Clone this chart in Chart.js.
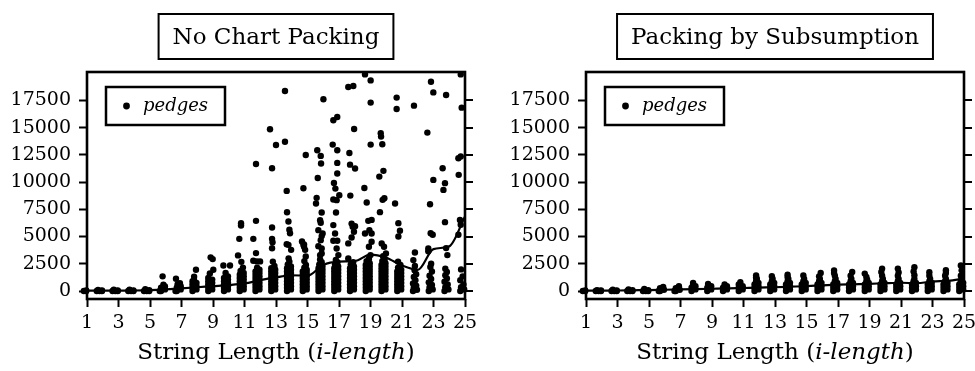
<!DOCTYPE html>
<html>
<head>
<meta charset="utf-8">
<script src="https://cdn.jsdelivr.net/npm/chart.js@4.4.1/dist/chart.umd.min.js"></script>
<style>
html,body{margin:0;padding:0;background:#fff;overflow:hidden;width:975px;height:371px;}
#wrap{position:relative;width:975px;height:371px;overflow:hidden;}
canvas{position:absolute;top:0;}
#c1{left:0;}
#c2{left:487px;}
</style>
</head>
<body>
<div id="wrap">
<canvas id="c1" width="487" height="371"></canvas>
<canvas id="c2" width="500" height="371"></canvas>
</div>
<script>
// ---- data ----
const xTicks = [1,3,5,7,9,11,13,15,17,19,21,23,25];
const yTicks = [0,2500,5000,7500,10000,12500,15000,17500];
const stringLengths = [1,2,3,4,5,6,7,8,9,10,11,12,13,14,15,16,17,18,19,20,21,22,23,24,25];
const noPackingMean = [30,30,40,50,80,150,250,350,450,550,700,1000,1250,1450,1400,2400,2700,2750,3350,3050,2350,1950,3850,4100,6850];
const subsumptionMean = [30,40,50,70,90,120,150,180,210,240,280,320,350,400,450,520,580,620,660,720,760,720,880,950,1150];

const noPackingPedges = [
[0.62,0],[0.8,0],[0.95,60],[0.7,100],[0.95,0],
[1.62,0],[1.8,0],[1.95,60],[1.7,100],[1.95,0],
[2.62,0],[2.8,0],[2.95,60],[2.7,120],[2.95,0],
[3.62,0],[3.8,0],[3.95,60],[3.7,130],[3.95,0],
[4.62,0],[4.8,0],[4.95,80],[4.7,160],[4.95,0],
[5.62,0],[5.7,0],[5.95,150],[5.7,300],[5.95,420],[5.85,580],[5.8,1350],
[6.62,0],[6.7,0],[6.95,150],[6.7,300],[6.95,450],[6.75,600],[6.9,730],[6.65,1130],
[7.7,0],[7.95,150],[7.7,300],[7.95,450],[7.7,600],[7.95,750],[7.7,900],[7.8,1000],[7.8,1310],[7.92,1950],
[8.7,0],[8.95,150],[8.7,300],[8.95,450],[8.7,600],[8.95,750],[8.7,900],[8.95,1050],[8.7,1200],[8.8,1620],[9.02,1950],[8.85,3090],[8.98,2930],
[9.7,0],[9.95,150],[9.7,300],[9.95,450],[9.7,600],[9.95,750],[9.7,900],[9.95,1050],[9.7,1200],[9.95,1350],[9.8,1650],[9.66,2350],[10.08,2350],
[10.7,0],[10.95,150],[10.7,300],[10.95,450],[10.7,600],[10.95,750],[10.7,900],[10.95,1050],[10.7,1200],[10.95,1350],[10.7,1500],[10.95,1650],[10.75,1850],[10.9,2150],[10.8,2680],[10.59,3270],[10.67,4790],[10.78,6020],[10.78,6230],
[11.7,0],[11.95,150],[11.7,300],[11.95,450],[11.7,600],[11.95,750],[11.7,900],[11.95,1050],[11.7,1200],[11.95,1350],[11.7,1500],[11.95,1650],[11.7,1800],[11.95,1950],[11.8,2150],[11.79,2720],[11.99,2720],[11.56,2780],[11.73,3480],[11.56,4790],[11.73,6440],[11.73,11660],
[12.7,0],[12.95,150],[12.7,300],[12.95,450],[12.7,600],[12.95,750],[12.7,900],[12.95,1050],[12.7,1200],[12.95,1350],[12.7,1500],[12.95,1650],[12.7,1800],[12.95,1950],[12.7,2100],[12.9,2300],[12.8,2700],[12.75,3930],[12.78,4480],[12.75,4790],[12.75,5830],[12.75,11270],[12.62,14843],[13.0,13400],
[13.7,0],[13.95,150],[13.7,300],[13.95,450],[13.7,600],[13.95,750],[13.7,900],[13.95,1050],[13.7,1200],[13.95,1350],[13.7,1500],[13.95,1650],[13.7,1800],[13.95,1950],[13.7,2100],[13.95,2250],[13.75,2450],[13.85,2700],[13.8,3000],[13.96,3780],[13.79,4240],[13.68,4300],[13.89,5310],[13.85,5620],[13.79,6380],[13.7,7230],[13.68,9190],[13.57,13700],[13.57,18350],
[14.7,0],[14.95,150],[14.7,300],[14.95,450],[14.7,600],[14.95,750],[14.7,900],[14.95,1050],[14.7,1200],[14.95,1350],[14.7,1500],[14.95,1650],[14.7,1800],[14.95,1950],[14.8,2150],[14.9,2400],[14.8,2750],[14.89,3170],[14.85,3780],[14.78,4060],[14.74,4240],[14.78,4275],[14.65,4550],[14.74,9430],[14.89,12490],
[15.7,0],[15.95,150],[15.7,300],[15.95,450],[15.7,600],[15.95,750],[15.7,900],[15.95,1050],[15.7,1200],[15.95,1350],[15.7,1500],[15.95,1650],[15.7,1800],[15.95,1950],[15.7,2100],[15.95,2250],[15.75,2450],[15.9,2650],[15.8,2900],[15.8,3300],[15.9,3450],[15.69,4120],[15.9,3910],[15.84,4670],[15.9,5040],[15.96,5280],[15.69,5590],[15.84,6260],[15.8,6500],[15.9,7210],[15.54,8030],[15.58,8550],[15.65,10370],[15.86,11700],[15.84,12400],[15.62,12920],[16.01,17600],
[16.7,0],[16.95,150],[16.7,300],[16.95,450],[16.7,600],[16.95,750],[16.7,900],[16.95,1050],[16.7,1200],[16.95,1350],[16.7,1500],[16.95,1650],[16.7,1800],[16.95,1950],[16.7,2100],[16.95,2250],[16.75,2450],[16.9,2650],[16.8,2850],[16.96,3300],[16.85,3910],[16.64,4610],[16.89,4610],[16.75,5280],[16.64,6050],[16.81,7210],[16.85,8340],[16.64,8400],[17.02,8800],[16.77,9400],[16.68,9925],[16.89,10780],[16.89,11760],[16.89,12920],[16.6,13440],[16.64,15670],[16.89,15970],
[17.7,0],[17.95,150],[17.7,300],[17.95,450],[17.7,600],[17.95,750],[17.7,900],[17.95,1050],[17.7,1200],[17.95,1350],[17.7,1500],[17.95,1650],[17.7,1800],[17.95,1950],[17.7,2100],[17.95,2250],[17.75,2450],[17.9,2650],[17.59,2990],[17.59,4370],[17.8,4920],[17.95,5440],[17.87,5890],[18.02,5950],[17.8,6190],[17.72,8760],[17.7,11600],[18.02,11240],[17.66,12670],[17.96,14870],[17.59,18720],[17.91,18810],
[18.7,0],[18.95,150],[18.7,300],[18.95,450],[18.7,600],[18.95,750],[18.7,900],[18.95,1050],[18.7,1200],[18.95,1350],[18.7,1500],[18.95,1650],[18.7,1800],[18.95,1950],[18.7,2100],[18.95,2250],[18.7,2400],[18.95,2550],[18.75,2750],[18.9,2950],[19.0,3300],[18.9,4060],[19.07,4520],[18.65,5280],[19.07,5280],[18.93,5590],[19.07,6530],[18.86,6440],[18.76,8120],[18.61,9460],[19.01,13440],[19.01,17290],[19.01,19330],[18.65,19880],
[19.7,0],[19.95,150],[19.7,300],[19.95,450],[19.7,600],[19.95,750],[19.7,900],[19.95,1050],[19.7,1200],[19.95,1350],[19.7,1500],[19.95,1650],[19.7,1800],[19.95,1950],[19.7,2100],[19.95,2250],[19.7,2400],[19.95,2550],[19.75,2750],[19.9,2950],[19.8,3200],[19.98,3450],[19.86,4060],[19.71,4370],[19.6,7240],[19.77,8370],[19.88,8520],[19.56,10500],[19.82,11030],[19.75,13470],[19.67,14170],[19.65,14480],
[20.7,0],[20.95,150],[20.7,300],[20.95,450],[20.7,600],[20.95,750],[20.7,900],[20.95,1050],[20.7,1200],[20.95,1350],[20.7,1500],[20.95,1650],[20.7,1800],[20.95,1950],[20.75,2150],[20.9,2400],[20.75,2700],[20.77,5010],[20.87,5530],[20.77,6230],[20.56,8030],[20.66,16710],[20.66,17750],
[21.7,0],[21.95,120],[21.75,300],[21.9,500],[21.7,700],[21.85,1000],[21.75,1300],[21.9,1550],[21.8,1900],[21.82,2300],[21.72,2840],[21.82,3540],[21.76,17010],
[22.7,0],[22.95,150],[22.75,350],[22.9,550],[22.7,800],[22.85,1100],[22.75,1400],[22.9,1800],[22.8,2200],[22.85,2500],[22.67,3650],[22.67,3910],[22.95,5160],[22.82,5310],[22.78,7970],[22.99,10200],[22.61,14540],[22.99,18230],[22.84,19210],
[23.7,0],[23.95,150],[23.75,350],[23.9,600],[23.7,850],[23.85,1150],[23.75,1450],[23.85,1750],[23.75,2050],[23.88,3300],[23.8,3940],[23.73,6320],[23.63,9280],[23.73,9900],[23.58,11270],[23.8,17990],
[24.7,0],[24.95,150],[24.75,350],[24.9,600],[24.7,1000],[24.85,1350],[24.75,1985],[24.58,5160],[24.68,6530],[24.73,6080],[24.6,10660],[24.58,12190],[24.73,12340],[24.79,16830],[24.73,19880]
];

const subsumptionPedges = [
[0.62,0],[0.8,0],[0.95,50],[0.7,80],[0.95,0],
[1.62,0],[1.8,0],[1.95,50],[1.7,80],[1.95,0],
[2.62,0],[2.8,0],[2.95,60],[2.7,120],[2.95,0],
[3.62,0],[3.8,0],[3.95,70],[3.7,150],[3.95,0],
[4.62,0],[4.8,0],[4.95,80],[4.7,200],[4.95,0],
[5.62,0],[5.7,0],[5.95,120],[5.7,250],[5.9,380],
[6.62,0],[6.7,0],[6.95,120],[6.7,250],[6.9,440],
[7.7,0],[7.95,150],[7.7,300],[7.95,450],[7.8,600],[7.8,740],
[8.7,0],[8.95,150],[8.7,300],[8.95,450],[8.75,640],
[9.7,0],[9.95,150],[9.7,300],[9.95,450],[9.8,600],
[10.7,0],[10.95,150],[10.7,300],[10.95,450],[10.7,600],[10.8,810],
[11.7,0],[11.95,150],[11.7,300],[11.95,450],[11.7,600],[11.95,750],[11.8,900],[11.85,1100],[11.8,1250],[11.8,1420],
[12.7,0],[12.95,150],[12.7,300],[12.95,450],[12.7,600],[12.95,750],[12.8,900],[12.85,1100],[12.8,1360],
[13.7,0],[13.95,150],[13.7,300],[13.95,450],[13.7,600],[13.95,750],[13.8,900],[13.85,1100],[13.8,1300],[13.8,1510],
[14.7,0],[14.95,150],[14.7,300],[14.95,450],[14.7,600],[14.95,750],[14.8,900],[14.85,1100],[14.8,1420],
[15.7,0],[15.95,150],[15.7,300],[15.95,450],[15.7,600],[15.95,750],[15.8,900],[15.85,1100],[15.8,1350],[15.9,1660],
[16.7,0],[16.95,150],[16.7,300],[16.95,450],[16.7,600],[16.95,750],[16.8,900],[16.85,1100],[16.8,1400],[16.75,1650],[16.75,1880],
[17.7,0],[17.95,150],[17.7,300],[17.95,450],[17.7,600],[17.95,750],[17.8,900],[17.85,1100],[17.8,1400],[17.9,1750],
[18.7,0],[18.95,150],[18.7,300],[18.95,450],[18.7,600],[18.95,750],[18.8,900],[18.85,1050],[18.8,1300],[18.7,1600],
[19.7,0],[19.95,150],[19.7,300],[19.95,450],[19.7,600],[19.95,750],[19.8,900],[19.85,1100],[19.8,1400],[19.75,1750],[19.8,2060],
[20.7,0],[20.95,150],[20.7,300],[20.95,450],[20.7,600],[20.95,750],[20.8,900],[20.85,1100],[20.8,1400],[20.85,1700],[20.8,2060],
[21.7,0],[21.95,150],[21.7,300],[21.95,450],[21.7,600],[21.95,750],[21.8,900],[21.85,1100],[21.85,1450],[21.8,1800],[21.85,2180],
[22.7,0],[22.95,150],[22.7,300],[22.95,450],[22.7,600],[22.95,750],[22.8,900],[22.85,1100],[22.8,1400],[22.8,1720],
[23.7,0],[23.95,150],[23.7,300],[23.95,450],[23.7,600],[23.95,750],[23.8,900],[23.85,1100],[23.8,1400],[23.85,1650],[23.85,1910],
[24.7,0],[24.95,150],[24.7,300],[24.95,450],[24.7,600],[24.95,750],[24.8,900],[24.85,1100],[24.8,1400],[24.85,1900],[24.8,2340]
];

// ---- drawing ----
const SERIF = "'DejaVu Serif', serif";
const toXY = arr => arr.map(p => ({x: p[0], y: p[1]}));
const meanXY = vals => stringLengths.map((x, i) => ({x: x, y: vals[i]}));

const decor = {
  id: 'decor',
  beforeDatasetsDraw(chart, args, opts) {
    const ctx = chart.ctx, a = chart.chartArea, ys = chart.scales.y;
    ctx.save();
    ctx.strokeStyle = '#000';
    ctx.lineWidth = 2.6;
    ctx.strokeRect(a.left, a.top, a.right - a.left, a.bottom - a.top);
    ctx.lineWidth = 2;
    ctx.beginPath();
    yTicks.forEach(v => {
      const py = Math.round(ys.getPixelForValue(v));
      ctx.moveTo(a.right, py);
      ctx.lineTo(a.right + 8, py);
    });
    ctx.stroke();
    ctx.restore();
  },
  afterDraw(chart, args, opts) {
    const ctx = chart.ctx, a = chart.chartArea;
    const cx = (a.left + a.right) / 2;
    ctx.save();
    ctx.fillStyle = '#000';
    ctx.strokeStyle = '#000';
    ctx.font = '23px ' + SERIF;
    ctx.textBaseline = 'alphabetic';
    ctx.textAlign = 'center';
    const tw = ctx.measureText(opts.title).width;
    ctx.fillText(opts.title, cx, 44);
    ctx.lineWidth = 2;
    ctx.strokeRect(cx - tw / 2 - 14, 14, tw + 28, 45);
    const lx = a.left + 19, ly = 87;
    ctx.lineWidth = 2.5;
    ctx.strokeRect(lx, ly, 119, 38);
    ctx.beginPath();
    ctx.arc(lx + 20.5, ly + 19, 3.4, 0, Math.PI * 2);
    ctx.fill();
    ctx.textAlign = 'left';
    ctx.font = 'italic 18px ' + SERIF;
    ctx.fillText(opts.label, lx + 37, ly + 24);
    const parts = [['String Length (', ''], ['i-length', 'italic '], [')', '']];
    let total = 0;
    parts.forEach(p => { ctx.font = p[1] + '23px ' + SERIF; p.push(ctx.measureText(p[0]).width); total += p[2]; });
    let x = cx - total / 2;
    parts.forEach(p => { ctx.font = p[1] + '23px ' + SERIF; ctx.fillText(p[0], x, 359); x += p[2]; });
    ctx.restore();
  }
};

function makeChart(id, title, points, mean, leftW, rightPad) {
  const gridOpts = () => ({display: true, drawOnChartArea: false, drawTicks: true, tickLength: 8, tickWidth: 2, tickColor: '#000'});
  return new Chart(document.getElementById(id), {
    type: 'scatter',
    data: {
      datasets: [
        {type: 'line', label: 'mean', data: meanXY(mean), borderColor: '#000', borderWidth: 2.2,
         pointRadius: 0, fill: false, cubicInterpolationMode: 'monotone', clip: false, order: 0},
        {label: 'pedges', data: toXY(points), backgroundColor: '#000', borderWidth: 0,
         pointRadius: 3.2, pointHoverRadius: 3.2, clip: false, order: 1}
      ]
    },
    options: {
      responsive: false, animation: false, devicePixelRatio: 1,
      layout: {padding: {top: 72, left: 0, right: rightPad, bottom: 0}},
      plugins: {legend: {display: false}, tooltip: {enabled: false},
                decor: {title: title, label: 'pedges'}},
      scales: {
        x: {type: 'linear', min: 1, max: 25,
            afterBuildTicks: s => { s.ticks = xTicks.map(v => ({value: v})); },
            afterFit: s => { s.height = 72; },
            grid: gridOpts(), border: {display: false},
            ticks: {font: {family: SERIF, size: 19}, color: '#000', padding: 5, maxRotation: 0, autoSkip: false, callback: v => String(v)}},
        y: {type: 'linear', position: 'left', min: -730, max: 20100,
            afterBuildTicks: s => { s.ticks = yTicks.map(v => ({value: v})); },
            afterFit: s => { s.width = leftW; },
            grid: gridOpts(), border: {display: false},
            ticks: {font: {family: SERIF, size: 19}, color: '#000', padding: 8, callback: v => String(v)}}
      }
    },
    plugins: [decor]
  });
}

makeChart('c1', 'No Chart Packing', noPackingPedges, noPackingMean, 87, 22);
makeChart('c2', 'Packing by Subsumption', subsumptionPedges, subsumptionMean, 99, 23);
</script>
</body>
</html>
